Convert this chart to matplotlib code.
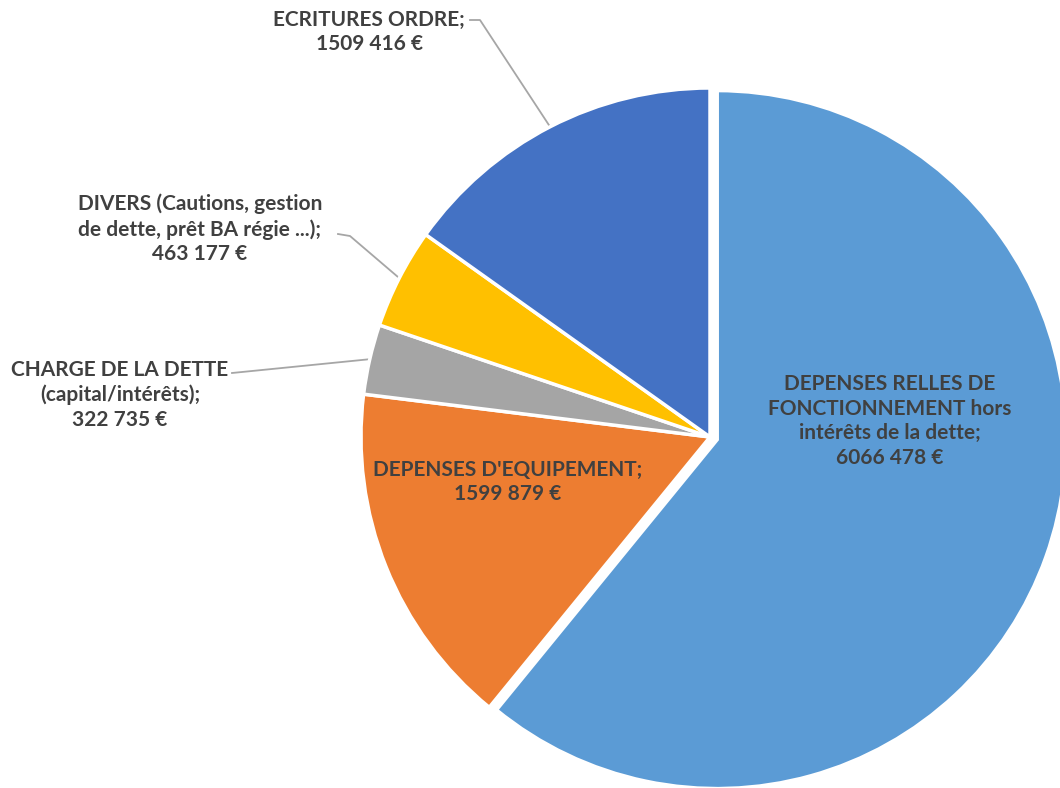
import numpy as np
import matplotlib
matplotlib.use('Agg')
import matplotlib.pyplot as plt

plt.rcParams['font.family'] = ['Lato', 'DejaVu Sans']

# Données
labels = [
    "DEPENSES RELLES DE\nFONCTIONNEMENT hors\nintérêts de la dette;\n6066 478 €",
    "DEPENSES D'EQUIPEMENT;\n1599 879 €",
    "CHARGE DE LA DETTE\n(capital/intérêts);\n322 735 €",
    "DIVERS (Cautions, gestion\nde dette, prêt BA régie ...);\n463 177 €",
    "ECRITURES ORDRE;\n1509 416 €",
]
values = [6066478, 1599879, 322735, 463177, 1509416]
colors = ['#5B9BD5', '#ED7D31', '#A5A5A5', '#FFC000', '#4472C4']

W, H = 1060, 788
fig = plt.figure(figsize=(W / 100, H / 100), dpi=100)
ax = fig.add_axes([0, 0, 1, 1])
ax.set_xlim(0, W)
ax.set_ylim(H, 0)  # coordonnées pixels, y vers le bas
ax.set_aspect('equal')
ax.axis('off')

cx, cy, R = 710, 437, 349
# y inversé -> sens horaire visuel = counterclock=True, départ en haut = -90
# explode est en unités de données dans matplotlib
wedges, _ = ax.pie(values, colors=colors, startangle=-90, counterclock=True,
                   center=(cx, cy), radius=R, explode=[0.022 * R, 0, 0, 0, 0],
                   wedgeprops=dict(edgecolor='white', linewidth=2.5))
ax.set_xlim(0, W)
ax.set_ylim(H, 0)

txt = dict(fontsize=15, fontweight='bold', color='#404040',
           ha='center', va='center', linespacing=1.3)

# étiquettes internes
ax.text(890, 421, labels[0], **txt)
ax.text(508, 482, labels[1], **txt)

# étiquettes externes avec lignes de rappel
outside = {
    2: ((120, 395), [(232, 373)]),
    3: ((200, 229), [(338, 234), (350, 236)]),
    4: ((369, 32), [(470, 20), (480, 20)]),
}
for i, (pos, pts) in outside.items():
    ax.text(pos[0], pos[1], labels[i], **txt)
    w = wedges[i]
    mid = np.deg2rad((w.theta1 + w.theta2) / 2)
    rim = (cx + R * np.cos(mid), cy + R * np.sin(mid))
    xs = [p[0] for p in pts] + [rim[0]]
    ys = [p[1] for p in pts] + [rim[1]]
    ax.plot(xs, ys, color='#A6A6A6', lw=1.3, zorder=0.5)

fig.savefig('out.png', dpi=100, facecolor='white')
